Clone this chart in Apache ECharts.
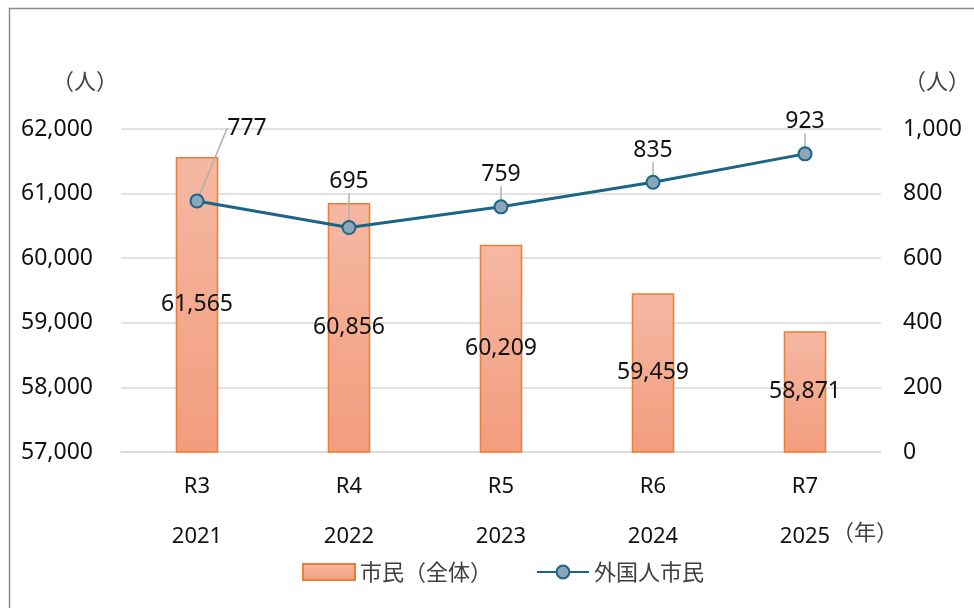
<!DOCTYPE html>
<html>
<head>
<meta charset="utf-8">
<script src="https://cdn.jsdelivr.net/npm/echarts@6/dist/echarts.min.js"></script>
<style>
  html, body { margin: 0; padding: 0; background: #fff; }
  #main { width: 974px; height: 608px; }
</style>
</head>
<body>
<div id="main"></div>
<script>
var wareki = ['R3', 'R4', 'R5', 'R6', 'R7'];
var years = ['2021', '2022', '2023', '2024', '2025'];
var allCitizens = [61565, 60856, 60209, 59459, 58871];
var foreignCitizens = [777, 695, 759, 835, 923];

var numFont = '"Noto Sans", "Noto Sans CJK JP", sans-serif';
var jpFont = '"Noto Sans CJK JP", sans-serif';

var myChart = echarts.init(document.getElementById('main'));

var option = {
  animation: false,
  backgroundColor: '#fff',
  grid: { left: 121, right: 93, top: 129, bottom: 156 },
  legend: {
    bottom: 20,
    left: 297,
    itemWidth: 52,
    itemHeight: 16,
    itemGap: 44,
    textStyle: { fontSize: 22, color: '#404040', fontFamily: jpFont },
    data: [{ name: '市民（全体）', icon: 'rect' }, '外国人市民']
  },
  xAxis: {
    type: 'category',
    data: wareki,
    axisLine: { lineStyle: { color: '#d9d9d9', width: 1.5 } },
    axisTick: { show: false },
    axisLabel: {
      margin: 10,
      fontSize: 22,
      lineHeight: 50,
      color: '#111',
      fontFamily: numFont,
      formatter: function (v, i) { return v + '\n' + years[i]; }
    }
  },
  yAxis: [
    {
      type: 'value',
      min: 57000, max: 62000, interval: 1000,
      axisLine: { show: false },
      axisTick: { show: false },
      splitLine: { lineStyle: { color: '#d9d9d9', width: 1.5 } },
      axisLabel: {
        margin: 28, fontSize: 23, color: '#111', fontFamily: numFont,
        formatter: function (v) { return v.toLocaleString('en-US'); }
      }
    },
    {
      type: 'value',
      min: 0, max: 1000, interval: 200,
      axisLine: { show: false },
      axisTick: { show: false },
      splitLine: { show: false },
      axisLabel: {
        margin: 22, fontSize: 23, color: '#111', fontFamily: numFont,
        formatter: function (v) { return v.toLocaleString('en-US'); }
      }
    }
  ],
  series: [
    {
      name: '市民（全体）',
      type: 'bar',
      data: allCitizens,
      barWidth: '28%',
      itemStyle: {
        color: new echarts.graphic.LinearGradient(0, 0, 0, 1, [
          { offset: 0, color: '#f5b8a3' },
          { offset: 1, color: '#f29d7d' }
        ]),
        borderColor: '#ed7d31',
        borderWidth: 1.5
      },
      label: {
        show: true,
        position: 'inside',
        fontSize: 23,
        color: '#111',
        fontFamily: numFont,
        formatter: function (p) { return p.value.toLocaleString('en-US'); }
      }
    },
    {
      name: '外国人市民',
      type: 'line',
      yAxisIndex: 1,
      data: foreignCitizens,
      symbol: 'circle',
      symbolSize: 13,
      lineStyle: { color: '#1b6587', width: 3 },
      itemStyle: { color: '#8ba6b9', borderColor: '#1b6587', borderWidth: 2 },
      label: {
        show: true,
        position: 'top',
        distance: 13,
        fontSize: 23,
        color: '#111',
        fontFamily: numFont
      },
      labelLine: { show: true, lineStyle: { color: '#b0b0b0', width: 1.5 } },
      labelLayout: function (p) {
        if (p.dataIndex === 0) return { dx: 50, dy: -41 };
        if (p.dataIndex === 1) return { dy: -14 };
        return {};
      }
    }
  ],
  graphic: [
    {
      type: 'rect', silent: true, z: -1,
      shape: { x: 9.5, y: 8.5, width: 1100, height: 1100 },
      style: { fill: 'none', stroke: '#8c8c8c', lineWidth: 1.5 }
    },
    {
      type: 'text', left: 52, top: 70,
      style: { text: '（人）', fontSize: 22, fill: '#404040', fontFamily: jpFont }
    },
    {
      type: 'text', left: 904, top: 70,
      style: { text: '（人）', fontSize: 22, fill: '#404040', fontFamily: jpFont }
    },
    {
      type: 'text', left: 832, top: 521,
      style: { text: '（年）', fontSize: 22, fill: '#404040', fontFamily: jpFont }
    }
  ]
};

myChart.setOption(option);
</script>
</body>
</html>
